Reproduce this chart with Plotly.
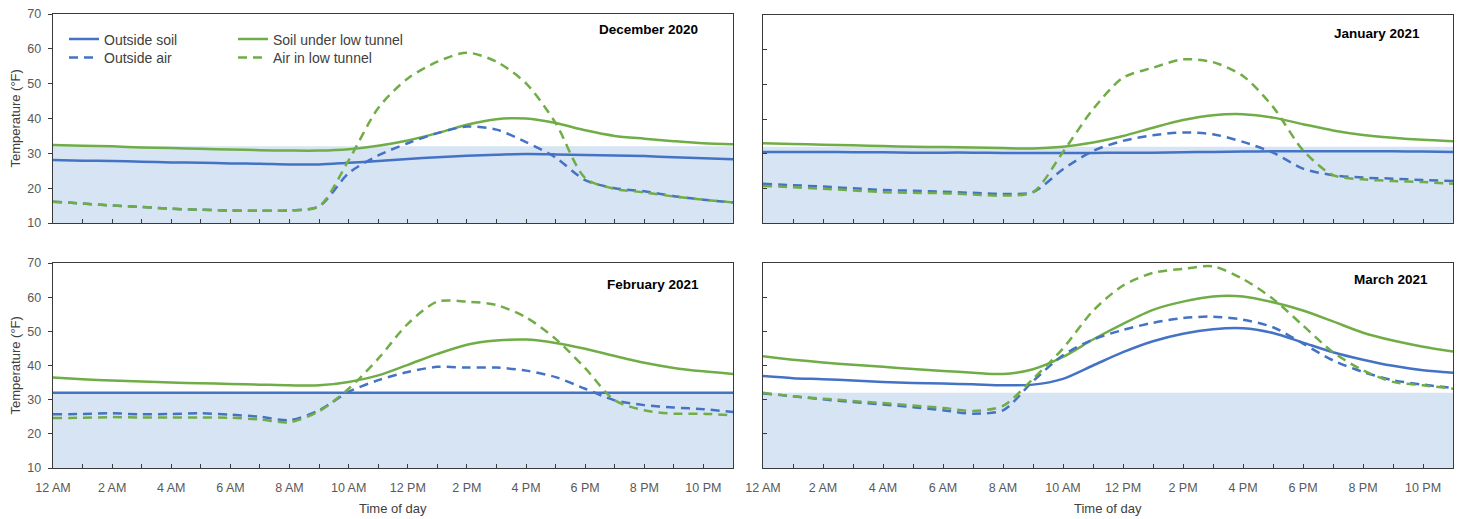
import plotly.graph_objects as go

# ---------------- data ----------------
HOURS = list(range(24))
TICK_HOURS = [0, 2, 4, 6, 8, 10, 12, 14, 16, 18, 20, 22]
TICK_LABELS = ["12 AM", "2 AM", "4 AM", "6 AM", "8 AM", "10 AM",
               "12 PM", "2 PM", "4 PM", "6 PM", "8 PM", "10 PM"]
FREEZING_F = 32
MONTHS = ["December 2020", "January 2021", "February 2021", "March 2021"]
SERIES_NAMES = ["Outside soil", "Soil under low tunnel", "Outside air", "Air in low tunnel"]

dec_outside_soil = [28.1, 27.9, 27.8, 27.6, 27.4, 27.3, 27.1, 27.0, 26.8, 26.8, 27.3, 27.8,
                    28.4, 28.9, 29.3, 29.6, 29.8, 29.7, 29.5, 29.4, 29.2, 28.9, 28.6, 28.3]
dec_soil_tunnel = [32.4, 32.2, 32.0, 31.7, 31.5, 31.3, 31.1, 30.9, 30.8, 30.8, 31.2, 32.2,
                   33.7, 35.8, 38.2, 39.8, 40.0, 38.7, 36.6, 35.0, 34.2, 33.5, 32.9, 32.6]
dec_outside_air = [16.1, 15.6, 15.0, 14.6, 14.1, 13.8, 13.6, 13.5, 13.6, 14.8, 24.3, 29.4,
                   32.9, 35.8, 37.7, 36.8, 33.2, 28.8, 22.3, 20.0, 19.1, 17.7, 16.7, 15.9]
dec_air_tunnel = [16.1, 15.6, 15.0, 14.6, 14.1, 13.8, 13.6, 13.5, 13.6, 14.8, 28.0, 43.0,
                  51.5, 56.3, 58.9, 56.3, 50.1, 38.7, 22.9, 19.8, 18.8, 17.6, 16.7, 15.9]

jan_outside_soil = [30.5, 30.5, 30.5, 30.4, 30.4, 30.3, 30.3, 30.3, 30.2, 30.2, 30.2, 30.2,
                    30.3, 30.3, 30.4, 30.5, 30.6, 30.7, 30.7, 30.7, 30.7, 30.7, 30.6, 30.5]
jan_soil_tunnel = [33.0, 32.8, 32.6, 32.4, 32.2, 32.0, 31.9, 31.8, 31.6, 31.5, 32.0, 33.2,
                   35.1, 37.5, 39.7, 41.1, 41.4, 40.4, 38.5, 36.7, 35.4, 34.6, 34.0, 33.6]
jan_outside_air = [21.3, 20.9, 20.5, 20.0, 19.5, 19.3, 19.0, 18.7, 18.4, 18.9, 25.5, 30.8,
                   33.7, 35.3, 36.1, 35.6, 33.4, 30.3, 25.7, 23.8, 23.1, 22.8, 22.4, 22.1]
jan_air_tunnel = [20.7, 20.3, 19.9, 19.4, 18.9, 18.7, 18.6, 18.2, 17.9, 18.9, 30.5, 42.8,
                  51.9, 54.8, 57.2, 56.4, 52.4, 43.5, 31.0, 23.8, 22.6, 22.1, 21.8, 21.3]

feb_outside_soil = [32.0, 32.0, 32.0, 32.0, 32.0, 32.0, 32.0, 32.0, 32.0, 32.0, 32.0, 32.0,
                    32.0, 32.0, 32.0, 32.0, 32.0, 32.0, 32.0, 32.0, 32.0, 32.0, 32.0, 32.0]
feb_soil_tunnel = [36.5, 36.0, 35.6, 35.3, 35.0, 34.8, 34.6, 34.4, 34.2, 34.2, 35.2, 37.1,
                   40.2, 43.4, 46.1, 47.3, 47.6, 46.6, 44.9, 42.8, 40.8, 39.3, 38.3, 37.5]
feb_outside_air = [25.7, 25.8, 26.0, 25.7, 25.8, 26.0, 25.6, 25.0, 24.0, 26.9, 32.3, 35.7,
                   38.1, 39.6, 39.4, 39.4, 38.5, 36.6, 33.2, 29.8, 28.4, 27.7, 27.2, 26.4]
feb_air_tunnel = [24.6, 24.7, 24.9, 24.8, 24.8, 24.8, 24.7, 24.2, 23.4, 26.6, 33.2, 42.0,
                  52.2, 58.7, 58.7, 57.7, 54.1, 47.8, 39.2, 29.8, 26.9, 25.9, 25.9, 25.4]

mar_outside_soil = [36.9, 36.3, 36.0, 35.6, 35.2, 34.9, 34.7, 34.5, 34.2, 34.4, 36.1, 40.0,
                    43.9, 47.1, 49.3, 50.6, 50.9, 49.5, 46.7, 43.9, 41.7, 39.9, 38.6, 37.9]
mar_soil_tunnel = [42.7, 41.7, 40.9, 40.2, 39.6, 39.0, 38.4, 37.9, 37.5, 38.9, 42.5, 47.6,
                   52.2, 56.3, 58.7, 60.2, 60.2, 58.5, 56.1, 52.9, 49.6, 47.3, 45.5, 44.1]
mar_outside_air = [31.8, 31.0, 30.1, 29.3, 28.6, 27.8, 26.9, 25.9, 26.9, 35.4, 43.0, 47.6,
                   50.4, 52.5, 53.9, 54.3, 53.4, 51.2, 46.4, 41.5, 38.1, 35.7, 34.4, 33.4]
mar_air_tunnel = [32.0, 31.0, 30.3, 29.6, 29.0, 28.3, 27.6, 26.7, 28.2, 36.1, 45.0, 56.0,
                  63.4, 67.1, 68.3, 69.0, 65.3, 59.5, 51.7, 43.9, 38.6, 35.2, 34.2, 33.2]

panels = [
    [dec_outside_soil, dec_soil_tunnel, dec_outside_air, dec_air_tunnel],
    [jan_outside_soil, jan_soil_tunnel, jan_outside_air, jan_air_tunnel],
    [feb_outside_soil, feb_soil_tunnel, feb_outside_air, feb_air_tunnel],
    [mar_outside_soil, mar_soil_tunnel, mar_outside_air, mar_air_tunnel],
]

# ---------------- style ----------------
W, H = 1460, 519
BLUE = "#4472C4"
GREEN = "#70AD47"
FILL = "#D7E4F3"
AXIS = "#3A3A3A"
TXT = "#595959"
FONT = "Liberation Sans, Arial, sans-serif"

styles = [
    dict(color=BLUE, dash="solid"),
    dict(color=GREEN, dash="solid"),
    dict(color=BLUE, dash="9px,6px"),
    dict(color=GREEN, dash="9px,6px"),
]
# one legend per entry, arranged as a 2 x 2 grid inside the first panel
legend_ids = ["legend", "legend2", "legend3", "legend4"]
legend_pos = [(64, 23.5), (233, 23.5), (64, 41.9), (233, 41.9)]  # left px, top px

def px_x(p):
    return p / W

def px_y(p):
    return 1 - p / H

# plot area boxes in pixels: (left, right, top, bottom)
boxes = [
    (53, 733, 14, 223),
    (763, 1453, 15, 223),
    (53, 733, 263, 468),
    (763, 1453, 263, 468),
]

fig = go.Figure()

for i, series in enumerate(panels):
    ax = "" if i == 0 else str(i + 1)
    xref, yref = "x" + ax, "y" + ax
    # freezing shaded area
    fig.add_trace(go.Scatter(
        x=HOURS, y=[FREEZING_F] * len(HOURS), mode="lines",
        line=dict(width=0, color=FILL), fill="tozeroy", fillcolor=FILL,
        showlegend=False, hoverinfo="skip", xaxis=xref, yaxis=yref))
    for k, vals in enumerate(series):
        fig.add_trace(go.Scatter(
            x=HOURS, y=vals, mode="lines", name=SERIES_NAMES[k],
            line=dict(color=styles[k]["color"], dash=styles[k]["dash"],
                      width=2.5, shape="spline", smoothing=0.8),
            showlegend=(i == 0), legend=legend_ids[k],
            xaxis=xref, yaxis=yref))

layout = dict(
    width=W, height=H,
    margin=dict(l=0, r=0, t=0, b=0, autoexpand=False),
    paper_bgcolor="white", plot_bgcolor="rgba(0,0,0,0)",
    font=dict(family=FONT, color=TXT, size=12.5),
    annotations=[],
)

for i, (l, r, t, b) in enumerate(boxes):
    ax = "" if i == 0 else str(i + 1)
    bottom_row = i >= 2
    left_col = i % 2 == 0
    layout["xaxis" + ax] = dict(
        domain=[px_x(l), px_x(r)], anchor="y" + ax,
        range=[0, 23], showgrid=False, zeroline=False, automargin=False,
        showline=True, mirror=True, linecolor=AXIS, linewidth=1.3,
        tickmode="array", tickvals=TICK_HOURS,
        ticktext=TICK_LABELS if bottom_row else [""] * len(TICK_HOURS),
        ticks="inside", ticklen=4, tickcolor=AXIS, tickwidth=1,
        minor=dict(dtick=1, tick0=0, ticks="inside", ticklen=4, tickcolor=AXIS, tickwidth=1),
        tickfont=dict(family=FONT, size=12.5, color=TXT),
        ticklabelstandoff=8,
        fixedrange=True,
    )
    layout["yaxis" + ax] = dict(
        domain=[px_y(b), px_y(t)], anchor="x" + ax,
        range=[10, 70], tickvals=[10, 20, 30, 40, 50, 60, 70],
        showticklabels=left_col, automargin=False,
        showgrid=False, zeroline=False,
        showline=True, mirror=True, linecolor=AXIS, linewidth=1.3,
        ticks="outside" if left_col else "inside", ticklen=4, tickcolor=AXIS, tickwidth=1,
        tickfont=dict(family=FONT, size=12.5, color=TXT),
        ticklabelstandoff=4,
        fixedrange=True,
    )

# panel titles
title_pos = [(700, 30), (1422, 33), (701, 284), (1430, 279)]
for (xr, yc), name in zip(title_pos, MONTHS):
    layout["annotations"].append(dict(
        text="<b>" + name + "</b>", x=px_x(xr), y=px_y(yc), xref="paper", yref="paper",
        xanchor="right", yanchor="middle", showarrow=False,
        font=dict(family=FONT, size=13.5, color="#000000")))

# y-axis titles
for yc in [(14 + 223) / 2, (263 + 468) / 2]:
    layout["annotations"].append(dict(
        text="Temperature (°F)", x=px_x(15), y=px_y(yc), xref="paper", yref="paper",
        xanchor="center", yanchor="middle", textangle=-90, showarrow=False,
        font=dict(family=FONT, size=13, color="#404040")))

# x-axis titles
for xc in [(53 + 733) / 2, (763 + 1453) / 2]:
    layout["annotations"].append(dict(
        text="Time of day", x=px_x(xc), y=px_y(508), xref="paper", yref="paper",
        xanchor="center", yanchor="middle", showarrow=False,
        font=dict(family=FONT, size=13, color="#404040")))

leg_common = dict(
    orientation="v", xanchor="left", yanchor="top",
    bgcolor="rgba(0,0,0,0)", borderwidth=0,
    font=dict(family=FONT, size=14, color="#404040"),
    itemclick=False, itemdoubleclick=False,
    tracegroupgap=0,
)
for lid, (lx, ly) in zip(legend_ids, legend_pos):
    layout[lid] = dict(leg_common, x=px_x(lx), y=px_y(ly))

fig.update_layout(**layout)

fig.write_html(
    "out.html",
    config={"displayModeBar": False, "staticPlot": True},
    post_script="document.body.style.margin='0';document.body.style.overflow='hidden';",
)
